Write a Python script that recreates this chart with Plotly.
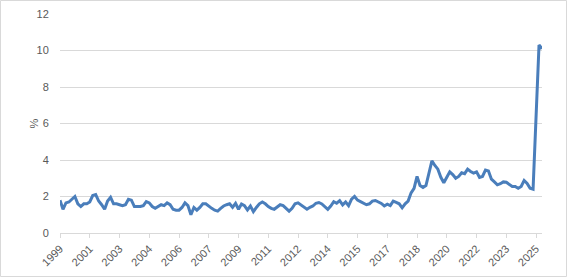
import plotly.graph_objects as go

# Tick labels (one every 10 samples along the category axis)
tick_labels = ["1999", "2001", "2003", "2004", "2006", "2007", "2009", "2011", "2012",
               "2014", "2015", "2017", "2018", "2020", "2022", "2023", "2025"]

# Series values (%), one sample per ~3 px
values = [
    1.8, 1.3, 1.65, 1.7, 1.85, 2.0, 1.6, 1.45, 1.6, 1.6,
    1.7, 2.05, 2.1, 1.75, 1.55, 1.3, 1.75, 1.95, 1.6, 1.6,
    1.55, 1.5, 1.55, 1.85, 1.8, 1.45, 1.45, 1.45, 1.5, 1.72,
    1.65, 1.45, 1.35, 1.45, 1.55, 1.5, 1.65, 1.55, 1.3, 1.25,
    1.25, 1.4, 1.65, 1.5, 1.0, 1.4, 1.25, 1.4, 1.6, 1.6,
    1.45, 1.35, 1.25, 1.2, 1.35, 1.48, 1.55, 1.6, 1.41, 1.63,
    1.3, 1.59, 1.5, 1.26, 1.48, 1.17, 1.4, 1.6, 1.7, 1.6,
    1.45, 1.35, 1.3, 1.45, 1.55, 1.5, 1.35, 1.2, 1.35, 1.6,
    1.65, 1.54, 1.44, 1.3, 1.41, 1.48, 1.63, 1.67, 1.59, 1.44,
    1.3, 1.48, 1.72, 1.63, 1.77, 1.54, 1.7, 1.5, 1.85, 2.0,
    1.8, 1.72, 1.62, 1.55, 1.6, 1.75, 1.78, 1.72, 1.62, 1.48,
    1.58, 1.5, 1.75, 1.68, 1.6, 1.38, 1.6, 1.75, 2.2, 2.45,
    3.1, 2.6, 2.5, 2.6, 3.35, 3.95, 3.7, 3.5, 3.05, 2.75,
    3.05, 3.35, 3.2, 3.0, 3.1, 3.3, 3.25, 3.5, 3.37, 3.28,
    3.35, 3.05, 3.1, 3.45, 3.4, 2.95, 2.8, 2.64, 2.7, 2.8,
    2.78, 2.64, 2.55, 2.55, 2.45, 2.55, 2.88, 2.72, 2.45, 2.4,
    6.4, 10.3, 10.1,
]

x_idx = list(range(len(values)))
tick_pos = [i * 10 for i in range(len(tick_labels))]

GRID = "#d9d9d9"
TXT = "#595959"
FONT = "Liberation Sans"

fig = go.Figure()
fig.add_trace(go.Scatter(x=x_idx, y=values, mode="lines",
                         line=dict(color="#4A7EBB", width=3), hoverinfo="skip"))

W, H = 567, 277
L, R, T, B = 60, 25, 14, 44
pw, ph = W - L - R, H - T - B

fig.update_layout(
    width=W, height=H,
    margin=dict(l=L, r=R, t=T, b=B, pad=0, autoexpand=False),
    paper_bgcolor="white", plot_bgcolor="white",
    showlegend=False,
    font=dict(family=FONT, size=11, color=TXT),
    xaxis=dict(range=[0, len(values) - 1], tickmode="array", tickvals=tick_pos,
               ticktext=tick_labels, tickangle=-45, showgrid=False, zeroline=False,
               showline=True, linecolor=GRID, linewidth=1, automargin=False,
               ticks="outside", ticklen=4, tickcolor=GRID,
               tickfont=dict(family=FONT, size=11, color=TXT)),
    yaxis=dict(range=[0, 12], dtick=2, showgrid=True, gridcolor=GRID, gridwidth=1,
               zeroline=False, showline=False, ticks="outside", ticklen=8,
               tickcolor="rgba(0,0,0,0)", automargin=False,
               tickfont=dict(family=FONT, size=11, color=TXT)),
    annotations=[dict(text="%", xref="paper", yref="paper",
                      x=(25 - L) / pw, y=0.5, showarrow=False, textangle=-90,
                      font=dict(family=FONT, size=11, color=TXT))],
    shapes=[dict(type="rect", xref="paper", yref="paper",
                 x0=(0.5 - L) / pw, x1=(W - 0.5 - L) / pw,
                 y0=(T + ph - (H - 0.5)) / ph, y1=(T + ph - 0.5) / ph,
                 line=dict(color=GRID, width=1), fillcolor="rgba(0,0,0,0)", layer="below")],
)

fig.write_html("out.html")
